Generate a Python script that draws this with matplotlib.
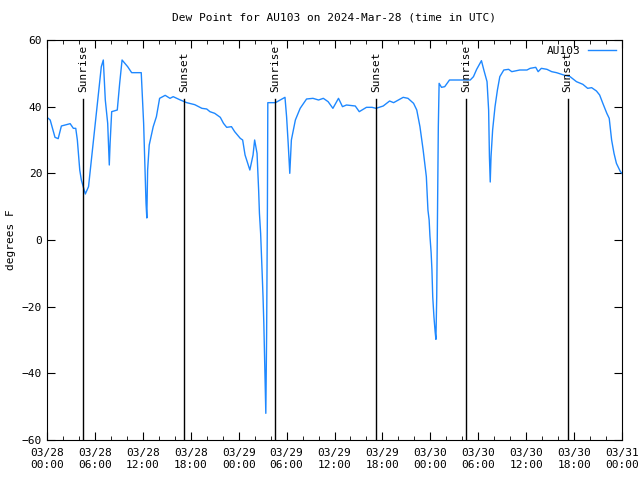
import numpy as np
import matplotlib
matplotlib.use("Agg")
import matplotlib.pyplot as plt

# hours since 2024-03-28 00:00 UTC, dew point in deg F
hours = [0.0, 0.4, 1.0, 1.4, 1.8, 2.9, 3.3, 3.6, 3.8, 4.1,
         4.3, 4.8, 5.2, 5.6, 6.0, 6.4, 6.8, 7.05, 7.3, 7.6,
         7.8, 7.9, 8.1, 8.8, 9.1, 9.4, 10.1, 10.6, 11.8, 12.1,
         12.4, 12.5, 12.6, 12.8, 13.3, 13.7, 14.1, 14.8, 15.4, 15.8,
         16.7, 17.5, 18.5, 19.4, 20.0, 20.4, 21.0, 21.7, 22.1, 22.5,
         23.1, 23.5, 24.2, 24.5, 24.8, 25.4, 25.8, 26.0, 26.3, 26.5,
         26.6, 26.75, 26.85, 26.95, 27.05, 27.15, 27.25, 27.35, 27.4, 27.5,
         27.6, 27.65, 28.6, 29.8, 30.0, 30.2, 30.4, 30.6, 31.1, 31.7,
         32.5, 33.3, 34.0, 34.6, 35.2, 35.8, 36.5, 37.0, 37.5, 38.6,
         39.1, 40.0, 40.7, 41.2, 42.1, 42.9, 43.4, 44.0, 44.6, 45.2,
         45.9, 46.3, 46.7, 47.1, 47.5, 47.7, 47.85, 47.95, 48.1, 48.2,
         48.3, 48.45, 48.6, 48.7, 48.8, 48.9, 49.0, 49.1, 49.4, 49.8,
         50.4, 53.0, 53.4, 53.8, 54.4, 54.7, 55.1, 55.3, 55.4, 55.5,
         55.6, 55.8, 56.1, 56.4, 56.7, 57.2, 57.8, 58.2, 59.2, 60.1,
         60.5, 61.2, 61.5, 61.9, 62.6, 63.2, 63.8, 64.7, 65.5, 66.3,
         67.1, 67.7, 68.2, 68.8, 69.2, 69.6, 70.1, 70.4, 70.7, 71.0,
         71.3, 71.8, 72.0]
dewpt = [36.8, 36.0, 30.8, 30.4, 34.2, 34.9, 33.5, 33.5, 30.0, 21.0,
         18.0, 13.8, 16.0, 25.0, 34.0, 43.0, 52.0, 54.0, 42.0, 35.0,
         22.5, 29.0, 38.5, 39.0, 47.0, 54.0, 52.0, 50.2, 50.2, 35.0,
         11.0, 6.6, 21.0, 28.5, 34.0, 37.0, 42.5, 43.4, 42.5, 43.0,
         42.0, 41.2, 40.6, 39.5, 39.3, 38.5, 38.0, 36.8, 35.0, 33.8,
         34.0, 32.5, 30.5, 30.0, 25.5, 21.0, 25.5, 30.0, 26.0, 15.0,
         8.0, 2.0, -4.0, -10.5, -17.0, -25.0, -36.0, -46.5, -52.0, -28.5,
         10.0, 41.2, 41.2, 42.8, 37.0, 29.0, 20.0, 30.0, 36.0, 39.5,
         42.3, 42.5, 42.0, 42.5, 41.5, 39.5, 42.5, 40.0, 40.5, 40.2,
         38.5, 39.8, 39.8, 39.5, 40.2, 41.7, 41.2, 42.0, 42.8, 42.5,
         41.0, 39.0, 34.0, 27.0, 19.0, 9.0, 6.0, 1.2, -3.8, -9.0,
         -17.0, -23.0, -27.5, -29.8, -17.0, 9.0, 34.0, 47.0, 45.8, 46.0,
         48.0, 48.0, 49.0, 51.2, 53.8, 51.0, 47.5, 39.0, 25.0, 17.4,
         25.0, 33.0, 40.0, 45.0, 49.0, 51.0, 51.2, 50.5, 51.0, 51.0,
         51.5, 51.8, 50.5, 51.5, 51.2, 50.5, 50.2, 49.5, 49.0, 47.5,
         46.7, 45.5, 45.7, 44.7, 43.5, 41.0, 38.0, 36.5, 30.0, 26.0,
         23.0, 20.5, 20.0]

sun_hours = [4.5, 17.2, 28.6, 41.2, 52.5, 65.2]
sun_names = ["Sunrise", "Sunset", "Sunrise", "Sunset", "Sunrise", "Sunset"]
sun_top = 42.3

tick_hours = list(range(0, 73, 6))
tick_labels = ["03/28\n00:00", "03/28\n06:00", "03/28\n12:00", "03/28\n18:00",
               "03/29\n00:00", "03/29\n06:00", "03/29\n12:00", "03/29\n18:00",
               "03/30\n00:00", "03/30\n06:00", "03/30\n12:00", "03/30\n18:00",
               "03/31\n00:00"]

plt.rcParams['font.family'] = ['DejaVu Sans Mono']
plt.rcParams['font.size'] = 8

fig = plt.figure(figsize=(6.4, 4.8), dpi=100)
ax = fig.add_axes([47/640, 40/480, 575/640, 400/480])

ax.plot(hours, dewpt, color='#1e88ff', lw=1, label='AU103')

# sunrise / sunset markers
for h, name in zip(sun_hours, sun_names):
    ax.plot([h, h], [-60, sun_top], color='black', lw=1)
    ax.text(h, sun_top + 2, name, rotation=90, ha='center', va='bottom', fontsize=8)

ax.set_xlim(0, 72)
ax.set_ylim(-60, 60)
ax.set_xticks(tick_hours)
ax.set_xticklabels(tick_labels)
ax.set_xticks(range(0, 73, 2), minor=True)
ax.set_yticks(range(-60, 61, 20))
ax.tick_params(which='both', direction='in', top=True, right=True)
ax.tick_params(which='major', length=6)
ax.tick_params(which='minor', length=3)
ax.tick_params(axis='x', pad=6)

ax.set_ylabel('degrees F')
ax.set_title('Dew Point for AU103 on 2024-Mar-28 (time in UTC)', fontsize=8, pad=14)
ax.legend(loc='upper right', frameon=False, handlelength=2.6, markerfirst=False,
          borderaxespad=0.1, handletextpad=0.6)

fig.savefig('out.png', dpi=100)
